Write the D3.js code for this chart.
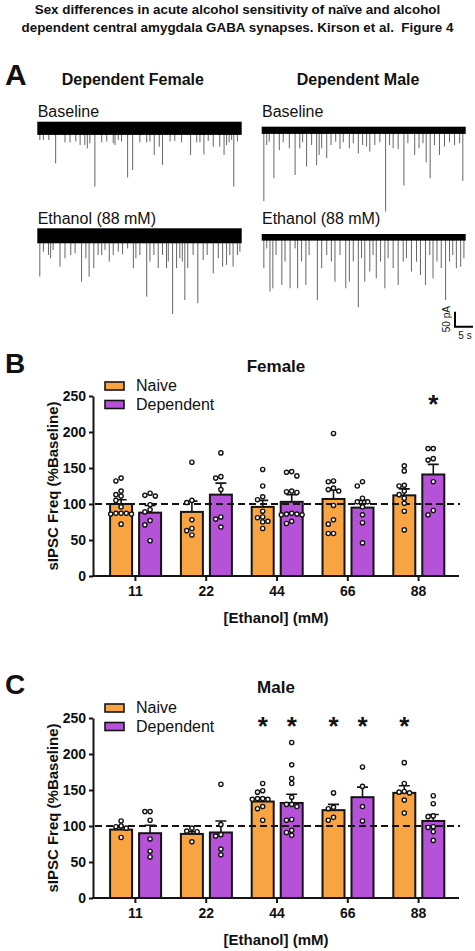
<!DOCTYPE html>
<html><head><meta charset="utf-8">
<script src="https://cdn.jsdelivr.net/npm/d3@7"></script>
<style>
body{margin:0;background:#fff}
svg{display:block}
text{font-family:"Liberation Sans",Arial,Helvetica,sans-serif;fill:#111}
</style>
</head><body>
<svg id="c" width="475" height="951"></svg>
<script>
// ---------------- DATA ----------------
const titleLines = ["Sex differences in acute alcohol sensitivity of naïve and alcohol",
                    "dependent central amygdala GABA synapses. Kirson et al.  Figure 4"];
const concentrations = ["11","22","44","66","88"];
const groups = ["Naive","Dependent"];
const yTicks = [0,50,100,150,200,250];

// Female (panel B)
const femaleNaiveMean = [100,89,96,107,112];
const femaleNaiveSem  = [6,15,9,12,9];
const femaleDepMean   = [88,113,103,95,141];
const femaleDepSem    = [10,16,10,10,14];
const femaleNaivePoints = [
  [136,132,118,113,111,105,96,87,87,87,86,86,72],
  [158,105,102,78,66,63,57],
  [148,125,110,106,90,82,81,76,75,66],
  [198,132,131,122,120,118,98,78,72,59,59],
  [153,146,126,125,118,113,108,101,90,64]];
const femaleDepPoints = [
  [115,112,111,99,92,89,77,71,49],
  [171,138,136,120,82,79,68],
  [145,144,139,118,117,116,87,86,85,85,86,76,73],
  [131,125,108,103,103,96,85,74,46],
  [177,177,163,161,131,91,85]];
const femaleNaiveSig = [false,false,false,false,false];
const femaleDepSig   = [false,false,false,false,true];

// Male (panel C)
const maleNaiveMean = [95,89,134,122,146];
const maleNaiveSem  = [3,3,5,8,10];
const maleDepMean   = [90,91,132,140,107];
const maleDepSem    = [11,16,12,14,9];
const maleNaivePoints = [
  [107,100,99,97,84],
  [97,93,92,78],
  [159,149,147,138,138,137,137,127,124,108],
  [146,126,124,112,108],
  [188,159,148,147,146,136,118]];
const maleDepPoints = [
  [120,120,108,82,65,57],
  [158,102,88,86,68,60],
  [216,185,166,159,140,130,127,130,109,108,94,87,91],
  [182,155,127,107],
  [142,131,114,113,99,98,92,80]];
const maleNaiveSig = [false,false,true,true,true];
const maleDepSig   = [false,false,true,true,false];

// Panel A traces: [time (s), event amplitude (pA, downward)]
const traceDuration = 56.8;
const noiseFemaleBaseline = 22, noiseMaleBaseline = 12, noiseFemaleEthanol = 25, noiseMaleEthanol = 11;
const femaleBaselineEvents = [[0.7,39],[1.7,39],[3.2,39],[5.1,117],[7.7,47],[9.1,47],[10.7,44],[11.9,56],[13.2,56],[13.9,67],[14.6,50],[16.0,194],[17.9,47],[19.3,44],[21.1,50],[21.6,56],[22.5,39],[23.4,44],[25.1,164],[26.5,139],[28.5,47],[30.4,47],[31.3,44],[32.5,89],[33.9,61],[34.8,122],[36.9,44],[38.2,42],[40.1,47],[42.6,89],[44.3,47],[45.2,47],[46.3,87],[47.5,42],[48.9,61],[50.7,61],[51.9,89],[52.6,56],[53.3,47],[54.0,39],[54.6,194],[55.6,44]];
const maleBaselineEvents = [[0.6,236],[1.4,49],[2.1,38],[3.4,160],[4.9,66],[6.0,40],[7.7,60],[9.3,149],[10.6,60],[11.4,40],[12.5,121],[13.9,49],[15.3,116],[16.0,82],[16.7,60],[18.1,93],[19.3,49],[20.6,38],[21.8,62],[22.7,40],[24.4,60],[25.5,43],[26.9,77],[28.1,49],[29.2,54],[30.1,71],[31.5,49],[32.9,40],[34.5,271],[35.6,49],[36.6,60],[38.0,62],[39.6,184],[40.7,43],[42.6,82],[43.8,60],[44.9,43],[45.8,107],[46.9,160],[48.1,49],[49.5,82],[50.9,54],[52.3,40],[53.7,49],[55.1,43],[56.0,169]];
const femaleEthanolEvents = [[0.7,136],[1.7,53],[3.1,64],[3.7,75],[4.4,47],[6.3,103],[7.7,75],[9.3,64],[10.5,58],[12.3,153],[13.5,75],[14.4,136],[15.7,108],[16.9,64],[17.9,64],[18.8,47],[20.0,86],[21.1,64],[22.5,53],[23.7,62],[25.1,42],[26.7,108],[27.4,75],[28.5,64],[30.4,203],[31.3,86],[32.4,64],[33.6,108],[34.8,64],[35.9,108],[36.4,86],[37.6,261],[38.7,108],[39.6,75],[40.3,86],[41.0,214],[41.8,108],[43.3,64],[44.6,225],[46.1,81],[47.2,64],[48.9,125],[50.3,75],[51.5,103],[52.6,97],[53.5,64],[54.4,103],[55.6,64],[56.3,53]];
const maleEthanolEvents = [[0.6,103],[1.4,37],[2.3,181],[3.1,170],[4.0,59],[5.6,159],[6.5,81],[7.9,170],[9.3,37],[10.0,170],[11.1,81],[12.3,159],[13.2,59],[15.5,209],[16.7,103],[18.1,59],[19.4,81],[20.4,148],[21.8,59],[23.4,170],[24.4,148],[25.5,81],[26.9,233],[27.8,70],[28.7,148],[30.1,114],[31.0,59],[31.9,137],[33.1,81],[34.3,170],[35.2,70],[36.6,103],[38.0,159],[39.4,81],[40.3,70],[41.7,114],[43.1,81],[44.2,126],[45.6,159],[46.8,59],[47.7,137],[48.8,81],[50.0,103],[51.2,209],[52.3,81],[53.2,59],[54.2,103],[55.4,98],[56.3,70]];
const scaleBarPA = 50, scaleBarS = 5;

// ---------------- DRAW ----------------
const svg = d3.select("#c");
const ORANGE = "#F9A443", PURPLE = "#B552D8", INK = "#141414";

svg.selectAll("text.title").data(titleLines).join("text")
  .attr("x", 237.5).attr("y", (d,i)=>14 + i*17.5)
  .attr("text-anchor","middle").attr("font-weight","bold").attr("font-size",13.4)
  .style("white-space","pre").attr("xml:space","preserve")
  .text(d=>d);

function letter(t,x,y,fs){ svg.append("text").attr("x",x).attr("y",y).attr("font-weight","bold").attr("font-size",fs).text(t); }
letter("A",5,85,30);

// ---- Panel A ----
const pxPerPA = 0.3;
function trace(events, noise, x0, x1, cy){
  const x = d3.scaleLinear().domain([0,traceDuration]).range([x0,x1]);
  const y = d3.scaleLinear().domain([0,100]).range([cy, cy+100*pxPerPA]);
  const g = svg.append("g");
  g.selectAll("line").data(events).join("line")
    .attr("x1",d=>x(d[0])).attr("x2",d=>x(d[0]))
    .attr("y1",cy).attr("y2",d=>y(d[1]))
    .attr("stroke","#555").attr("stroke-width",0.9);
  g.append("rect").attr("x",x0).attr("width",x1-x0)
    .attr("y",y(-noise)).attr("height",y(noise)-y(-noise)).attr("fill","#000");
  return {x,y};
}
svg.append("text").attr("x",61.7).attr("y",85).attr("font-weight","bold").attr("font-size",16).text("Dependent Female");
svg.append("text").attr("x",296.7).attr("y",85).attr("font-weight","bold").attr("font-size",16).text("Dependent Male");
[["Baseline",37.7,117],["Baseline",262,117],["Ethanol (88 mM)",37.7,224],["Ethanol (88 mM)",262,224]].forEach(t=>{
  svg.append("text").attr("x",t[1]).attr("y",t[2]).attr("font-size",16).text(t[0]);
});
trace(femaleBaselineEvents, noiseFemaleBaseline, 37.3, 241.7, 128.3);
trace(maleBaselineEvents, noiseMaleBaseline, 261.7, 465.7, 130.3);
trace(femaleEthanolEvents, noiseFemaleEthanol, 37.3, 241.7, 235.8);
const sc = trace(maleEthanolEvents, noiseMaleEthanol, 261.7, 465.7, 237.3);
// scale bar
{
  const bx = 455, by = 326.7;
  const w = sc.x(scaleBarS) - sc.x(0), h = sc.y(scaleBarPA) - sc.y(0);
  svg.append("path").attr("d",`M${bx},${by-h}V${by}H${bx+w}`).attr("fill","none").attr("stroke","#000").attr("stroke-width",2);
  svg.append("text").attr("transform",`translate(${bx-5},${by-h/2}) rotate(-90)`).attr("text-anchor","middle").attr("font-size",10).text(scaleBarPA+" pA");
  svg.append("text").attr("x",bx+w/2+1).attr("y",by+12).attr("text-anchor","middle").attr("font-size",10).text(scaleBarS+" s");
}

// ---- Bar panels ----
function swarm(vals, y, cx){
  const step = 5.2, minD = 5.0;
  const placed = [];
  vals.map(v=>v).sort((a,b)=>b-a).forEach(v=>{
    const py = y(v);
    const cands = [0,-1,1,-2,2,-3,3,-4,4];
    let px = cx;
    for (const k of cands){
      const tx = cx + k*step;
      if (placed.every(p=>Math.hypot(p[0]-tx,p[1]-py) >= minD)){ px = tx; break; }
    }
    placed.push([px,py]);
  });
  return placed;
}

function barPanel(opt){
  const y = d3.scaleLinear().domain([0,250]).range([opt.y0, opt.y0-180]);
  const x = d3.scaleBand().domain(concentrations).range([100,454]).paddingInner(0).paddingOuter(0);
  const off = d3.scaleOrdinal().domain(groups).range([-14.3,14.7]);
  const col = d3.scaleOrdinal().domain(groups).range([ORANGE,PURPLE]);
  const g = svg.append("g");
  letter(opt.letter, 5, opt.letterY, 28);
  g.append("text").attr("x",276).attr("y",opt.titleY).attr("text-anchor","middle").attr("font-weight","bold").attr("font-size",17).text(opt.title);

  // axes
  const ya = g.append("g").attr("transform","translate(93,0)")
    .call(d3.axisLeft(y).tickValues(yTicks).tickSize(4).tickSizeOuter(0).tickPadding(3));
  ya.selectAll("path,line").attr("stroke",INK).attr("stroke-width",2);
  ya.selectAll("text").attr("font-size",14).attr("font-weight","bold").attr("fill",INK).attr("font-family","Liberation Sans, Arial, sans-serif");
  const xa = g.append("g").attr("transform",`translate(0,${y(0)})`)
    .call(d3.axisBottom(x).tickSize(5).tickSizeOuter(0).tickPadding(5));
  xa.select(".domain").remove();
  xa.selectAll("line").attr("stroke",INK).attr("stroke-width",2);
  xa.selectAll("text").attr("font-size",14).attr("font-weight","bold").attr("fill",INK).attr("font-family","Liberation Sans, Arial, sans-serif");
  g.append("text").attr("transform",`translate(58,${y(125)}) rotate(-90)`).attr("text-anchor","middle")
    .attr("font-size",15).attr("font-weight","bold").text("sIPSC Freq (%Baseline)");
  g.append("text").attr("x",276).attr("y",y(0)+47).attr("text-anchor","middle")
    .attr("font-size",15).attr("font-weight","bold").text("[Ethanol] (mM)");

  const series = [
    {grp:"Naive", mean:opt.nMean, sem:opt.nSem, pts:opt.nPts, sig:opt.nSig},
    {grp:"Dependent", mean:opt.dMean, sem:opt.dSem, pts:opt.dPts, sig:opt.dSig}];
  series.forEach(s=>{
    concentrations.forEach((c,i)=>{
      const cx = x(c) + x.bandwidth()/2 + off(s.grp);
      g.append("rect").attr("x",cx-11).attr("width",22).attr("y",y(s.mean[i])).attr("height",y(0)-y(s.mean[i]))
        .attr("fill",col(s.grp)).attr("stroke",INK).attr("stroke-width",2);
    });
  });
  // dashed 100% line
  g.append("line").attr("x1",95).attr("x2",460).attr("y1",y(100)).attr("y2",y(100))
    .attr("stroke",INK).attr("stroke-width",2).attr("stroke-dasharray","7,4");
  g.append("line").attr("x1",92).attr("x2",459).attr("y1",y(0)).attr("y2",y(0)).attr("stroke",INK).attr("stroke-width",2);
  series.forEach(s=>{
    concentrations.forEach((c,i)=>{
      const cx = x(c) + x.bandwidth()/2 + off(s.grp);
      const top = y(s.mean[i]+s.sem[i]);
      g.append("path").attr("d",`M${cx},${y(s.mean[i])}V${top}M${cx-5.5},${top}H${cx+5.5}`)
        .attr("stroke",INK).attr("stroke-width",1.6).attr("fill","none");
      const pos = swarm(s.pts[i], y, cx);
      g.selectAll(null).data(pos).join("circle").attr("cx",d=>d[0]).attr("cy",d=>d[1]).attr("r",2.1)
        .attr("fill","#fff").attr("stroke",INK).attr("stroke-width",1.4);
      if (s.sig[i]) g.append("text").attr("x",cx).attr("y",y(227)).attr("text-anchor","middle")
        .attr("font-size",26).attr("font-weight","bold").text("*");
    });
  });
  // legend
  groups.forEach((gname,i)=>{
    const ly = y(250) - 14 + i*18.5;
    g.append("rect").attr("x",105).attr("y",ly).attr("width",19).attr("height",8)
      .attr("fill",col(gname)).attr("stroke",INK).attr("stroke-width",1.6);
    g.append("text").attr("x",136).attr("y",ly+9).attr("font-size",16).text(gname);
  });
}

barPanel({y0:576, letter:"B", letterY:373, title:"Female", titleY:372,
  nMean:femaleNaiveMean, nSem:femaleNaiveSem, nPts:femaleNaivePoints, nSig:femaleNaiveSig,
  dMean:femaleDepMean, dSem:femaleDepSem, dPts:femaleDepPoints, dSig:femaleDepSig});
barPanel({y0:898, letter:"C", letterY:694, title:"Male", titleY:693,
  nMean:maleNaiveMean, nSem:maleNaiveSem, nPts:maleNaivePoints, nSig:maleNaiveSig,
  dMean:maleDepMean, dSem:maleDepSem, dPts:maleDepPoints, dSig:maleDepSig});
</script>
</body></html>
